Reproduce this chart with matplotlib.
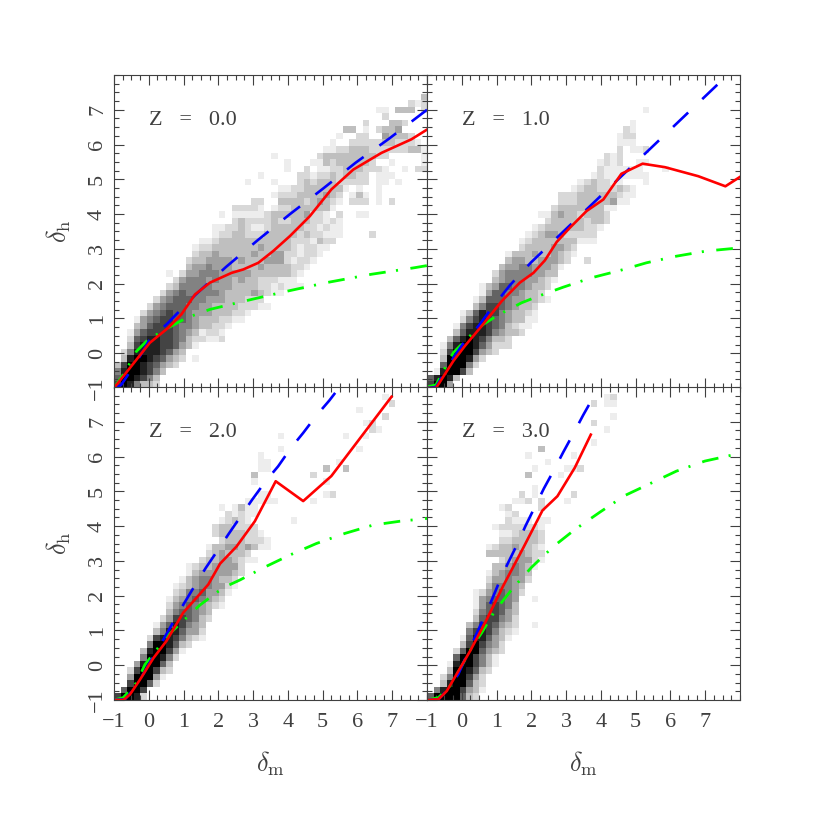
import matplotlib
matplotlib.use("Agg")
import matplotlib.pyplot as plt
import numpy as np
from matplotlib.colors import ListedColormap
from matplotlib.ticker import MultipleLocator

plt.rcParams['font.family'] = ['Liberation Serif', 'DejaVu Serif']
plt.rcParams['mathtext.fontset'] = 'cm'
plt.rcParams['lines.scale_dashes'] = False

redshifts = ["0.0", "1.0", "2.0", "3.0"]
tick_values = [-1, 0, 1, 2, 3, 4, 5, 6, 7]
tick_labels = ["\u22121", "0", "1", "2", "3", "4", "5", "6", "7"]
n_bins = 48

# grey level of each histogram bin, 0 = empty, 9 = black
# one (first bin, levels) pair per row, bottom row first
cells_z0 = [
    (0, "7985332"), (0, "6998753"), (0, "58998753"), (0, "3799876432"),
    (1, "389987643201"), (1, "2588887643"), (2, "37888776431"), (2, "267887765322112"),
    (2, "146777765431221"), (3, "346777655433221"), (3, "14567766543332211"), (4, "24567665444333221"),
    (5, "2456665544333322211"), (6, "24566655444333222"), (7, "2456555554333343211"), (8, "235555544433332212111"),
    (9, "2455545443433222111"), (8, "102445554444433333321"), (11, "3445444333343333221"), (11, "23344443433344421221"),
    (12, "23343333343344221221"), (12, "122333333343333212211"), (13, "112333333333332221322"), (15, "1223322233333232211100002"),
    (15, "11223211233333221211"), (18, "23222232233322121"), (16, "10111112333334221020011"), (18, "2222101223333331"),
    (21, "2200333323432102220102"), (24, "12223333432013101"), (25, "1122333333101001"), (20, "100010002323332222201101"),
    (22, "100000221223233220111"), (26, "1002011223332221001022"), (26, "1000113233333200100001"), (24, "100000023333333322000001"),
    (32, "1122333222222331"), (33, "10022222332221"), (34, "100220043332"), (35, "330102334"),
    (38, "2000332"), (41, "2"), (40, "11033302"), (45, "212"),
    (47, "3"),
]
cells_z1 = [
    (0, "7994"), (0, "68983"), (1, "189973"), (2, "699952"),
    (2, "3999842"), (2, "279997432"), (2, "15899864222"), (3, "3689875332"),
    (4, "36888754332"), (4, "157887653211"), (5, "257876543311"), (5, "136877543321"),
    (7, "3577654332"), (7, "136665443321"), (8, "1466554332"), (8, "13466554332"),
    (10, "3455544321"), (10, "2455554433"), (11, "3445544431"), (12, "3443344432002"),
    (12, "13334334321"), (14, "233334432"), (14, "123333333111"), (15, "12344322222"),
    (16, "12333333221"), (18, "2333332332"), (17, "11343323332"), (19, "2333333311"),
    (20, "22233333411"), (20, "222333333211"), (22, "1233222321"), (23, "12322110001"),
    (25, "121111111"), (26, "21111110001"), (26, "12120011"), (27, "212"),
    (29, "20112"), (29, "111"), (29, "122"), (30, "21"),
    (31, "1"), (0, ""), (33, "1"),
]
cells_z2 = [
    (0, "79982"), (1, "6997"), (2, "79962"), (2, "499941"),
    (2, "2799732"), (3, "489963"), (4, "599852"), (4, "3899741"),
    (5, "5998632"), (5, "278875321"), (6, "35886442"), (6, "14687543"),
    (7, "24776532"), (8, "3566543"), (8, "245654321"), (8, "134565432"),
    (9, "235564431"), (9, "1234554421"), (10, "134554332"), (11, "134444432"),
    (11, "123344442"), (13, "233443211"), (14, "2343332"), (14, "1334434311"),
    (16, "23332221"), (15, "23333221"), (15, "2332222"), (16, "123210000001"),
    (17, "21211"), (16, "101311"), (20, "11111000001"), (22, "110000000012"),
    (0, ""), (21, "100000000001"), (21, "3000000002"), (22, "11000000003003"),
    (22, "1100000000001"), (22, "1"), (25, "1000000000001"), (0, ""),
    (25, "10000000001001"), (39, "21"), (38, "12"), (41, "2"),
    (37, "1"), (42, "2"), (41, "1"),
]
cells_z3 = [
    (0, "69999632"), (1, "58997431"), (2, "3899632"), (2, "2599742"),
    (3, "3998632"), (3, "18997531"), (4, "6997531"), (4, "26996432"),
    (5, "3797542"), (5, "16886431"), (6, "57875321"), (6, "35776432001"),
    (7, "3677542"), (7, "2567643"), (7, "1467653"), (7, "1456654001"),
    (7, "12456542"), (9, "355543"), (9, "2445442"), (9, "1345543"),
    (10, "3345431"), (11, "2344421"), (9, "333334322"), (9, "123343321"),
    (11, "2233332"), (11, "1123332"), (10, "12222221"), (12, "2111011"),
    (12, "12"), (11, "1200002"), (13, "112020001"), (14, "201000002"),
    (16, "1"), (0, ""), (15, "300001"), (16, "10000112"),
    (18, "1"), (15, "10000001"), (17, "3"), (25, "1"),
    (0, ""), (27, "1"), (25, "2"), (28, "1"),
    (0, ""), (25, "2011"), (27, "12"),
]

red_x_z0 = [-1, -.73, -.35, .03, .56, .94, 1.33, 1.76, 2.38, 2.72, 3.15, 3.58, 4.06, 4.63, 5.25, 5.88, 6.69, 7.55, 8]
red_y_z0 = [-1, -.66, -.18, .3, .73, 1.12, 1.69, 2.03, 2.31, 2.41, 2.6, 2.94, 3.37, 3.94, 4.71, 5.28, 5.76, 6.15, 6.43]
blue_x_z0 = [-1, -.8, -.59, -.25, .03, .51, 1.33, 2.22, 3.12, 4.06, 5.02, 5.95, 6.91, 8]
blue_y_z0 = [-1, -.92, -.61, -.08, .4, .83, 1.67, 2.48, 3.24, 4.0, 4.74, 5.48, 6.17, 7.0]
green_x_z0 = [-1, -.73, -.35, -.01, .56, 1.09, 1.76, 2.67, 3.87, 5.11, 6.4, 7.65, 8]
green_y_z0 = [-1, -.61, .06, .4, .73, 1.02, 1.26, 1.48, 1.76, 2.03, 2.27, 2.46, 2.52]

red_x_z1 = [-1, -.74, -.58, -.24, .09, .57, 1.15, 1.67, 2.06, 2.39, 2.73, 3.11, 3.59, 4.07, 4.59, 5.2, 5.84, 6.8, 7.58, 8]
red_y_z1 = [-1, -1, -.75, -.22, .21, .78, 1.5, 2.03, 2.31, 2.67, 3.2, 3.61, 4.09, 4.42, 5.16, 5.45, 5.35, 5.09, 4.8, 5.07]
blue_x_z1 = [-1, -.74, -.24, .09, .48, .83, 1.39, 2, 7.61, 8]
blue_y_z1 = [-1, -.97, -.13, .35, .78, 1.26, 1.96, 2.62, 7.97, 8.34]
green_x_z1 = [-1, -.74, -.48, -.24, .04, .33, .62, 1.05, 1.72, 2.2, 2.92, 3.73, 4.55, 5.31, 6.17, 7.04, 8]
green_y_z1 = [-.97, -.91, -.42, .02, .3, .59, .83, 1.1, 1.45, 1.64, 1.9, 2.17, 2.38, 2.6, 2.79, 2.94, 3.03]

red_x_z2 = [-1, -.73, -.54, -.25, .13, .51, .99, 1.71, 2.05, 2.52, 3.05, 3.65, 4.44, 5.25, 6.98]
red_y_z2 = [-1, -1, -.84, -.41, .2, .7, 1.51, 2.32, 2.92, 3.41, 4.14, 5.29, 4.72, 5.44, 7.72]
blue_x_z2 = [-1, -.68, -.44, -.16, .11, .42, .72, 1.01, 1.33, 1.64, 2, 2.3, 2.67, 2.98, 3.36, 3.72, 4.09, 4.44, 4.82, 5.19, 5.49]
blue_y_z2 = [-1, -.98, -.69, -.26, .22, .74, 1.27, 1.77, 2.3, 2.8, 3.33, 3.78, 4.32, 4.77, 5.29, 5.72, 6.25, 6.68, 7.18, 7.61, 8.0]
green_x_z2 = [-1, -.73, -.35, -.11, .08, .56, .9, 1.47, 2.14, 2.62, 3.29, 4.06, 4.82, 5.64, 6.45, 7.22, 8]
green_y_z2 = [-1, -.93, -.5, .02, .26, .87, 1.19, 1.73, 2.23, 2.45, 2.8, 3.17, 3.5, 3.79, 4.03, 4.14, 4.22]

red_x_z3 = [-1, -.67, -.43, -.15, .24, .67, 1.19, 1.77, 2.32, 2.75, 3.25, 3.71]
red_y_z3 = [-1, -.98, -.74, -.26, .41, 1.22, 2.28, 3.38, 4.45, 4.86, 5.68, 6.63]
blue_x_z3 = [-1, -.67, -.39, -.1, .09, .35, .59, .83, 1.08, 1.31, 1.6, 1.83, 2.11, 2.36, 2.66, 2.92, 3.22, 3.49, 3.8]
blue_y_z3 = [-1, -.98, -.69, -.26, .17, .74, 1.27, 1.8, 2.4, 2.9, 3.49, 4.0, 4.57, 5.08, 5.63, 6.13, 6.68, 7.19, 7.74]
green_x_z3 = [-1, -.67, -.34, 0, .28, .57, .95, 1.48, 2.01, 2.63, 3.25, 3.97, 4.69, 5.41, 6.17, 6.99, 7.85, 8]
green_y_z3 = [-1, -.93, -.6, -.02, .5, .93, 1.56, 2.23, 2.82, 3.41, 3.9, 4.4, 4.88, 5.22, 5.58, 5.87, 6.06, 6.08]

cells = [cells_z0, cells_z1, cells_z2, cells_z3]
red = [(red_x_z0, red_y_z0), (red_x_z1, red_y_z1), (red_x_z2, red_y_z2), (red_x_z3, red_y_z3)]
blue = [(blue_x_z0, blue_y_z0), (blue_x_z1, blue_y_z1), (blue_x_z2, blue_y_z2), (blue_x_z3, blue_y_z3)]
green = [(green_x_z0, green_y_z0), (green_x_z1, green_y_z1), (green_x_z2, green_y_z2), (green_x_z3, green_y_z3)]


def make_grid(rows):
    grid = np.zeros((n_bins, n_bins))
    for r, (first, levels) in enumerate(rows):
        for i, level in enumerate(levels):
            grid[r, first + i] = int(level)
    return grid


ink = '#404040'
panel_lefts = [114, 427, 114, 427]
panel_tops = [75, 75, 387, 387]
panel_size = 313
greys = ListedColormap(['1.0', '0.93', '0.85', '0.75', '0.63', '0.51', '0.39', '0.27', '0.13', '0.0'])

fig = plt.figure(figsize=(8.3, 8.3), dpi=100)

for k in range(4):
    ax = fig.add_axes([panel_lefts[k] / 830, 1 - (panel_tops[k] + panel_size) / 830,
                       panel_size / 830, panel_size / 830])
    ax.imshow(make_grid(cells[k]), origin='lower', extent=[-1, 8, -1, 8], aspect='auto',
              cmap=greys, vmin=-0.5, vmax=9.5, interpolation='nearest')
    ax.plot(green[k][0], green[k][1], color='#00ff00', lw=2, dash_capstyle='butt',
            linestyle=(0, (12, 7.5, 1.5, 9)))
    ax.plot(blue[k][0], blue[k][1], color='#0000ff', lw=1.9, dash_capstyle='butt',
            linestyle=(0, (15, 14)))
    ax.plot(red[k][0], red[k][1], color='#ff0000', lw=1.9)

    ax.set_xlim(-1, 8)
    ax.set_ylim(-1, 8)
    ax.xaxis.set_major_locator(MultipleLocator(1))
    ax.yaxis.set_major_locator(MultipleLocator(1))
    ax.xaxis.set_minor_locator(MultipleLocator(0.25))
    ax.yaxis.set_minor_locator(MultipleLocator(0.25))
    ax.tick_params(which='both', direction='in', top=True, right=True, color=ink, width=0.8)
    ax.tick_params(which='major', length=7.5)
    ax.tick_params(which='minor', length=3.6)
    for s in ax.spines.values():
        s.set_color(ink)
        s.set_linewidth(0.8)

    ax.set_xticks(tick_values)
    ax.set_yticks(tick_values)
    ax.set_xticklabels(tick_labels if k >= 2 else [], fontsize=16, color=ink)
    ax.set_yticklabels(tick_labels if k % 2 == 0 else [], fontsize=16, color=ink,
                       rotation=90, va='center')
    ax.tick_params(axis='x', pad=9)
    ax.tick_params(axis='y', pad=5)

    if k >= 2:
        ax.set_xlabel(r"$\delta_{\rm m}$", fontsize=19, color=ink, labelpad=13)
    if k % 2 == 0:
        ax.set_ylabel(r"$\delta_{\rm h}$", fontsize=19, color=ink, labelpad=11)
    ax.text(0.02, 6.7, "Z   =   " + redshifts[k], fontsize=16, color=ink, ha='left', va='center')

fig.savefig("out.png", dpi=100)
